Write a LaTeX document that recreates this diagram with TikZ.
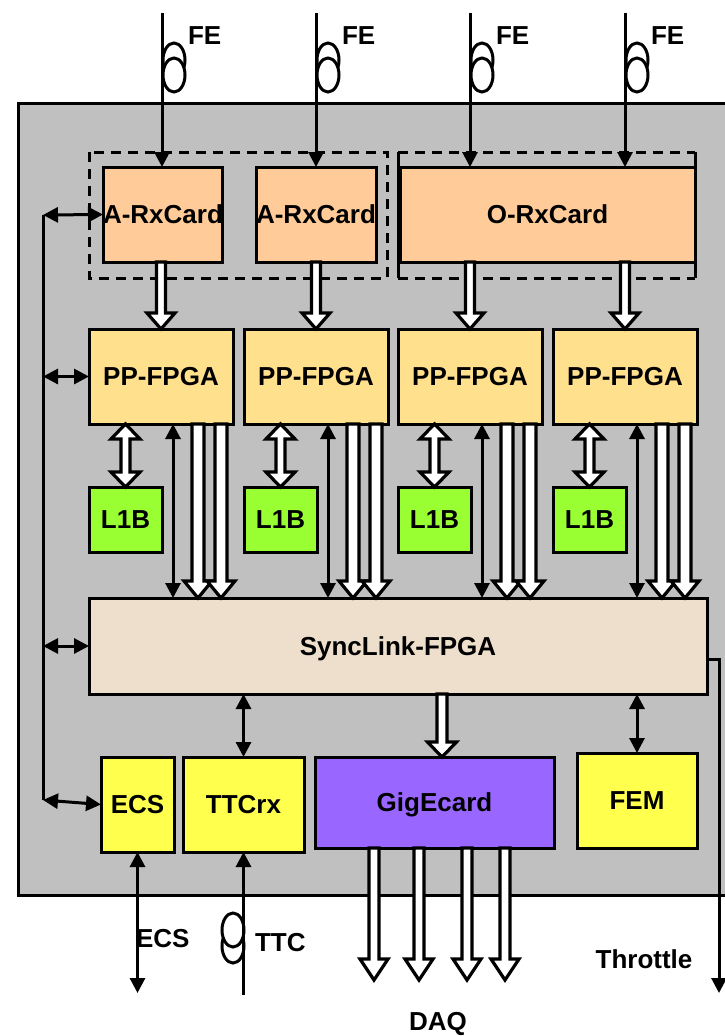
\documentclass[tikz,border=0pt]{standalone}
\usepackage{fontspec}
\setmainfont{Liberation Sans}
\usetikzlibrary{arrows.meta,calc}
\definecolor{panelgray}{HTML}{C0C0C0}
\definecolor{rxcol}{HTML}{FFCC99}
\definecolor{ppcol}{HTML}{FFE08C}
\definecolor{lbcol}{HTML}{99FF33}
\definecolor{synccol}{HTML}{EEDFCC}
\definecolor{yelcol}{HTML}{FFFF4D}
\definecolor{gigcol}{HTML}{9966FF}
% down block arrow: #1 start, #2 tip (same x), #3 shaft half width, #4 head half width, #5 head length
\newcommand\dnblk[5]{%
  \draw[blk] ($(#1)+(-#3,0)$) -- ($(#2)+(-#3,-#5)$) -- ($(#2)+(-#4,-#5)$) -- (#2)
    -- ($(#2)+(#4,-#5)$) -- ($(#2)+(#3,-#5)$) -- ($(#1)+(#3,0)$) -- cycle;}
% double vertical block arrow: #1 top tip, #2 bottom tip
\newcommand\dblblk[5]{%
  \draw[blk] (#1) -- ($(#1)+(#4,#5)$) -- ($(#1)+(#3,#5)$) -- ($(#2)+(#3,-#5)$)
    -- ($(#2)+(#4,-#5)$) -- (#2) -- ($(#2)+(-#4,-#5)$) -- ($(#2)+(-#3,-#5)$)
    -- ($(#1)+(-#3,#5)$) -- ($(#1)+(-#4,#5)$) -- cycle;}
\begin{document}
\begin{tikzpicture}[x=1pt,y=-1pt,
  every node/.style={font=\bfseries\fontsize{26}{30}\selectfont, text height=18.5pt, text depth=0pt, inner sep=0pt, outer sep=0pt},
  box/.style={draw=black, line width=3pt, anchor=north west, align=center},
  conn/.style={line width=3pt, draw=black},
  tipboth/.style={conn, {Triangle[length=15pt,width=15pt]}-{Triangle[length=15pt,width=15pt]}},
  tipend/.style={conn, -{Triangle[length=15pt,width=15pt]}},
  blk/.style={draw=black, fill=white, line width=3.2pt, line join=miter},
  loopline/.style={line width=3pt, draw=black, fill=white},
  dashbox/.style={line width=3pt, dash pattern=on 10pt off 7pt}
]
\useasboundingbox (0,0) rectangle (725,1036);
\clip (0,0) rectangle (725,1036);

% panel
\draw[line width=3pt, fill=panelgray] (18,103) rectangle (770,895);

% dashed groups
\draw[dashbox] (89,152) rectangle (387,278);
\draw[dashbox] (398,152) -- (695,152);
\draw[dashbox] (398,278) -- (695,278);
\draw[line width=3pt] (398,152) -- (398,278);
\draw[line width=3pt] (695,152) -- (695,278);

% boxes
\node[box, fill=rxcol, minimum width=118pt, minimum height=95pt] (rx1) at (103,167) {A-RxCard};
\node[box, fill=rxcol, minimum width=120pt, minimum height=95pt] (rx2) at (256,167) {A-RxCard};
\node[box, fill=rxcol, minimum width=295pt, minimum height=95pt] (orx) at (400,167) {O-RxCard};

\node[box, fill=ppcol, minimum width=144pt, minimum height=95pt] (pp1) at (89,329) {PP-FPGA};
\node[box, fill=ppcol, minimum width=144pt, minimum height=95pt] (pp2) at (244,329) {PP-FPGA};
\node[box, fill=ppcol, minimum width=144pt, minimum height=95pt] (pp3) at (398,329) {PP-FPGA};
\node[box, fill=ppcol, minimum width=144pt, minimum height=95pt] (pp4) at (553,329) {PP-FPGA};

\node[box, fill=lbcol, minimum width=73pt, minimum height=65pt] (l1) at (89,487) {L1B};
\node[box, fill=lbcol, minimum width=73pt, minimum height=65pt] (l2) at (244,487) {L1B};
\node[box, fill=lbcol, minimum width=73pt, minimum height=65pt] (l3) at (398,487) {L1B};
\node[box, fill=lbcol, minimum width=73pt, minimum height=65pt] (l4) at (553,487) {L1B};

\node[box, fill=synccol, minimum width=618pt, minimum height=96pt] (sync) at (89,598) {SyncLink-FPGA};

\node[box, fill=yelcol, minimum width=73pt, minimum height=95pt] (ecs) at (101,757) {ECS};
\node[box, fill=yelcol, minimum width=121pt, minimum height=95pt] (ttc) at (183,757) {TTCrx};
\node[box, fill=gigcol, minimum width=239pt, minimum height=91pt] (gig) at (315,757) {GigEcard};
\node[box, fill=yelcol, minimum width=120pt, minimum height=95pt] (fem) at (577,753) {FEM};

% FE inputs
\foreach \x/\n in {162/1,316/2,470/3,625/4} {
  \coordinate (fe\n) at (\x,13);
  \coordinate (fein\n) at (\x,167);
  \draw[loopline] (\x+12,60) ellipse [x radius=11pt, y radius=17pt];
  \draw[loopline] (\x+12,75) ellipse [x radius=11pt, y radius=17pt];
  \draw[tipend] (fe\n) -- (fein\n);
  \node[anchor=west] (fel\n) at (\x+26,35) {FE};
}

% RxCard -> PP-FPGA
\coordinate (r1) at (pp1.north |- rx1.south);
\coordinate (r2) at (pp2.north |- rx2.south);
\coordinate (r3) at (pp3.north |- orx.south);
\coordinate (r4) at (pp4.north |- orx.south);
\dnblk{r1}{pp1.north}{4.5}{14}{16}
\dnblk{r2}{pp2.north}{4.5}{14}{16}
\dnblk{r3}{pp3.north}{4.5}{14}{16}
\dnblk{r4}{pp4.north}{4.5}{14}{16}

% PP-FPGA <-> L1B, PP-FPGA -> SyncLink
\foreach \i in {1,2,3,4} {
  \coordinate (t\i) at ($(pp\i.south west)+(84,0)$);
  \coordinate (ba\i) at ($(pp\i.south west)+(109,0)$);
  \coordinate (bb\i) at ($(pp\i.south west)+(132,0)$);
  \coordinate (lt\i) at ($(l\i.north west)+(36.5,-63)$);
  \coordinate (te\i) at ($(pp\i.south west)+(84,174)$);
  \coordinate (bae\i) at ($(pp\i.south west)+(109,174)$);
  \coordinate (bbe\i) at ($(pp\i.south west)+(132,174)$);
  \dblblk{lt\i}{l\i.north}{4.5}{14.5}{15}
  \draw[tipboth] (t\i) -- (te\i);
  \dnblk{ba\i}{bae\i}{6}{14}{17}
  \dnblk{bb\i}{bbe\i}{6}{14}{17}
}

% left control bus
\coordinate (bus1) at (43,215);
\coordinate (bus2) at (43,376.5);
\coordinate (bus3) at (43,646);
\coordinate (bus4) at (43,800);
\draw[conn] (bus1) -- (bus4);
\draw[tipboth] (bus1) -- (rx1.west);
\draw[tipboth] (bus2) -- (pp1.west);
\draw[tipboth] (bus3) -- (sync.west);
\draw[tipboth] (bus4) -- (ecs.west);

% SyncLink to bottom row
\coordinate (s1) at (ttc.north |- sync.south);
\draw[tipboth] (s1) -- (ttc.north);
\coordinate (gtop) at ($(gig.north west)+(127,0)$);
\coordinate (s2) at ($(gig.north west)+(127,-63)$);
\dnblk{s2}{gtop}{5}{14.5}{15}
\coordinate (s3) at (fem.north |- sync.south);
\draw[tipboth] (s3) -- (fem.north);

% DAQ outputs
\foreach \x/\n in {374/1,419/2,467/3,505/4} {
  \coordinate (d\n) at (\x,980);
  \coordinate (ds\n) at (\x,848);
  \dnblk{ds\n}{d\n}{5}{14}{21}
}
\node (daq) at (438,1021) {DAQ};

% ECS external
\coordinate (ecsout) at (137.5,993);
\draw[tipboth] (ecs.south) -- (ecsout);
\node[anchor=west] (ecslbl) at (136,938) {ECS};

% TTC input
\coordinate (ttcin) at (243.5,995);
\draw[loopline] (233,946) ellipse [x radius=11pt, y radius=17pt];
\draw[loopline] (233,930) ellipse [x radius=11pt, y radius=17pt];
\draw[tipend] (ttcin) -- (ttc.south);
\node[anchor=west] (ttclbl) at (255,942) {TTC};

% Throttle
\coordinate (thr) at (719,993);
\coordinate (thrs) at ($(sync.north east)+(0,61)$);
\draw[tipend] (thrs) -| (thr);
\node (thrlbl) at (644,959) {Throttle};
\end{tikzpicture}
\end{document}
